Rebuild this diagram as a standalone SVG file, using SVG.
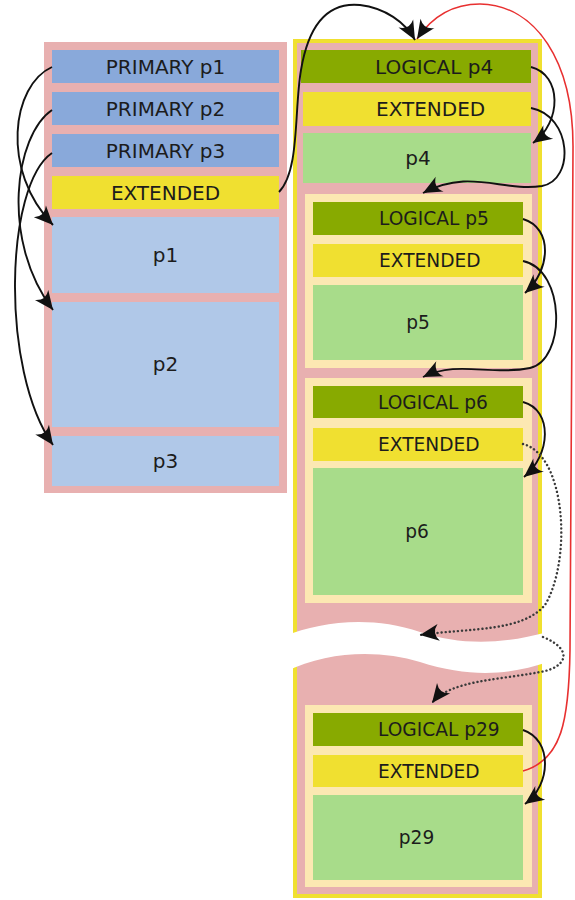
<svg xmlns="http://www.w3.org/2000/svg" width="575" height="900" viewBox="0 0 575 900">
<style>
.pink{fill:#e8b0b0}
.yel{fill:#f0e030}
.pri{fill:#89a9da}
.part{fill:#b0c8e8}
.log{fill:#88aa00}
.lg{fill:#a8dc8a}
.cream{fill:#fce8b2}
text{font-family:"DejaVu Sans","Liberation Sans",sans-serif;fill:#1c1c1c}
.t1{font-size:20px}
.t2{font-size:18.6px}
.c{text-anchor:middle}
.arr{fill:none;stroke:#111;stroke-width:1.9;marker-end:url(#ah)}
.dot{fill:none;stroke:#3a3a3a;stroke-width:2.4;stroke-dasharray:0.1,4;stroke-linecap:round;marker-end:url(#ah)}
.red{fill:none;stroke:#e83030;stroke-width:1.6;marker-end:url(#ah)}
</style>
<defs>
<marker id="ah" markerUnits="userSpaceOnUse" markerWidth="22" markerHeight="22" viewBox="-19 -10 21 20" refX="0" refY="0" orient="auto">
<path d="M0,0 L-18,-8 Q-11,0 -18,8 Z" fill="#111"/>
</marker>
</defs>
<g id="disk1">
<rect class="pink" x="44" y="42" width="243" height="451"/>
<g id="prim1"><rect class="pri" x="52" y="50" width="227" height="33"/><text class="t1 c" x="165.5" y="74">PRIMARY p1</text></g>
<g id="prim2"><rect class="pri" x="52" y="92" width="227" height="33"/><text class="t1 c" x="165.5" y="116">PRIMARY p2</text></g>
<g id="prim3"><rect class="pri" x="52" y="134" width="227" height="33"/><text class="t1 c" x="165.5" y="158">PRIMARY p3</text></g>
<g id="ext0"><rect class="yel" x="52" y="176" width="227" height="33"/><text class="t1 c" x="165.5" y="200">EXTENDED</text></g>
<g id="p1"><rect class="part" x="52" y="217" width="227" height="76"/><text class="t1 c" x="165.5" y="262">p1</text></g>
<g id="p2"><rect class="part" x="52" y="302" width="227" height="125"/><text class="t1 c" x="165.5" y="371">p2</text></g>
<g id="p3"><rect class="part" x="52" y="436" width="227" height="50"/><text class="t1 c" x="165.5" y="468">p3</text></g>
</g>
<g id="disk2">
<rect class="yel" x="293" y="39" width="249" height="859"/>
<rect class="pink" x="297" y="43" width="241" height="851"/>
<g id="log4"><rect class="log" x="301" y="50" width="230" height="33"/><text class="t1" x="375" y="74">LOGICAL p4</text></g>
<g id="ext4"><rect class="yel" x="303" y="92" width="228" height="34"/><text class="t1" x="376" y="116">EXTENDED</text></g>
<g id="p4"><rect class="lg" x="303" y="133" width="228" height="50"/><text class="t1 c" x="418" y="165">p4</text></g>
<g id="ebr5"><rect class="cream" x="305" y="194" width="227" height="174"/>
<g id="log5"><rect class="log" x="313" y="202" width="210" height="33"/><text class="t2" x="379" y="225">LOGICAL p5</text></g>
<g id="ext5"><rect class="yel" x="313" y="244" width="210" height="33"/><text class="t2" x="379" y="267">EXTENDED</text></g>
<g id="p5"><rect class="lg" x="313" y="285" width="210" height="75"/><text class="t2 c" x="418" y="329">p5</text></g>
</g>
<g id="ebr6"><rect class="cream" x="305" y="378" width="227" height="225"/>
<g id="log6"><rect class="log" x="313" y="386" width="210" height="32"/><text class="t2" x="378" y="409">LOGICAL p6</text></g>
<g id="ext6"><rect class="yel" x="313" y="428" width="210" height="33"/><text class="t2" x="378" y="451">EXTENDED</text></g>
<g id="p6"><rect class="lg" x="313" y="468" width="210" height="127"/><text class="t2 c" x="417" y="538">p6</text></g>
</g>
<g id="ebr29"><rect class="cream" x="305" y="705" width="227" height="182"/>
<g id="log29"><rect class="log" x="313" y="713" width="210" height="33"/><text class="t2" x="378" y="736">LOGICAL p29</text></g>
<g id="ext29"><rect class="yel" x="313" y="755" width="210" height="32"/><text class="t2" x="378" y="778">EXTENDED</text></g>
<g id="p29"><rect class="lg" x="313" y="795" width="210" height="85"/><text class="t2 c" x="416.5" y="844">p29</text></g>
</g>
<path id="gap" fill="#fff" d="M285,636 C320,622 370,615 420,632 C460,645 500,645 548,632 L548,662 C510,675 470,678 420,662 C380,650 330,650 285,672 Z"/>
</g>
<g id="connectors">
<path class="arr" d="M52,67 C12,85 0,170 53,225"/>
<path class="arr" d="M52,110 C15,135 0,240 53,310"/>
<path class="arr" d="M52,153 C5,185 0,370 53,445"/>
<path class="arr" d="M279,192 C300,170 294,110 301,70 C309,22 330,2 360,5 C385,8 405,22 415,40"/>
<path class="red" d="M523,771 C562,760 569,720 570,650 L573,150 C574,60 535,5 480,4 C455,4 433,15 417,39"/>
<path class="arr" d="M531,67 C562,75 562,122 533,143"/>
<path class="arr" d="M531,108 C572,116 575,180 542,186 C502,192 470,168 423,193"/>
<path class="arr" d="M523,219 C553,228 551,270 525,293"/>
<path class="arr" d="M523,261 C566,270 566,360 530,368 C490,376 458,360 423,377"/>
<path class="arr" d="M523,402 C553,410 551,455 524,477"/>
<path class="dot" d="M523,444 C566,455 572,560 545,605 C522,632 470,628 420,635"/>
<path class="dot" d="M543,637 C575,650 566,668 540,672 C500,680 450,680 432,703"/>
<path class="arr" d="M523,730 C553,740 551,785 525,804"/>
</g>
</svg>
